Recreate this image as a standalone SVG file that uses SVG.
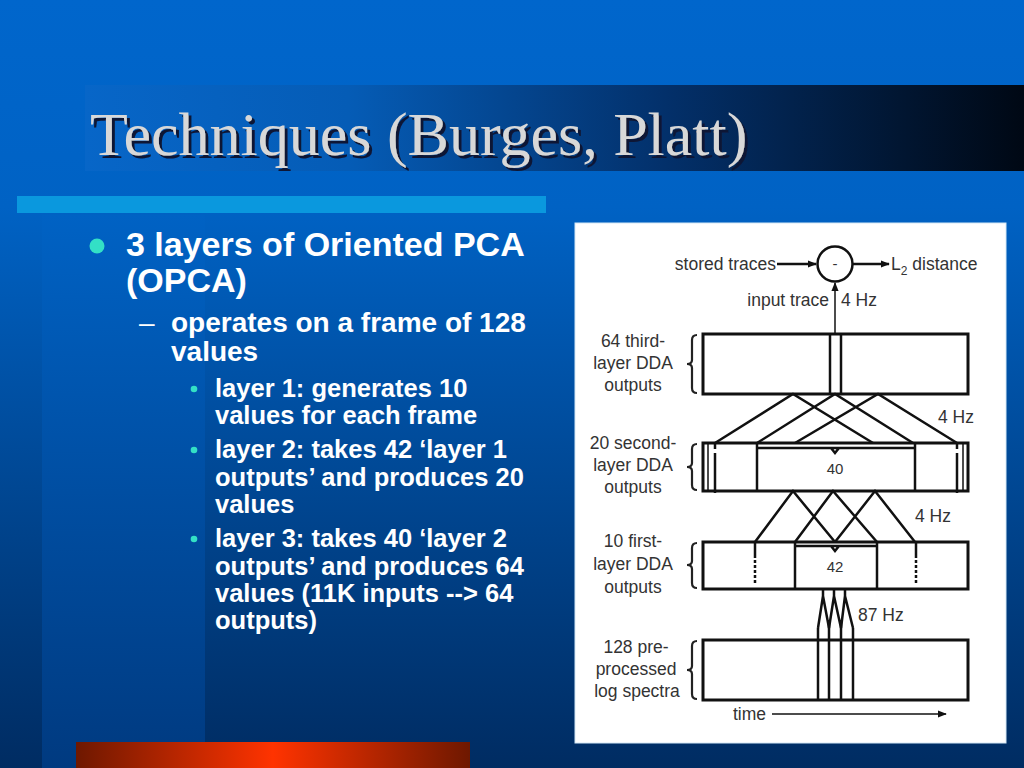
<svg xmlns="http://www.w3.org/2000/svg" width="1024" height="768" viewBox="0 0 1024 768">
<defs>
<linearGradient id="bg" x1="0" y1="0" x2="0" y2="1">
<stop offset="0" stop-color="#0066cc"/>
<stop offset="0.27" stop-color="#0062c4"/>
<stop offset="1" stop-color="#002c62"/>
</linearGradient>
<linearGradient id="band" x1="0" y1="0" x2="0" y2="1">
<stop offset="0" stop-color="#0062c4"/>
<stop offset="1" stop-color="#003a80"/>
</linearGradient>
<linearGradient id="titleband" x1="0" y1="0" x2="1" y2="0">
<stop offset="0" stop-color="#0766c8"/>
<stop offset="0.28" stop-color="#055cb6"/>
<stop offset="0.62" stop-color="#03306a"/>
<stop offset="1" stop-color="#000814"/>
</linearGradient>
<linearGradient id="red" x1="0" y1="0" x2="1" y2="0">
<stop offset="0" stop-color="#6e1800"/>
<stop offset="0.5" stop-color="#ff3300"/>
<stop offset="1" stop-color="#6e1800"/>
</linearGradient>
<filter id="shadow" x="-5%" y="-20%" width="110%" height="140%">
<feDropShadow dx="3" dy="3" stdDeviation="0.6" flood-color="#0a1836" flood-opacity="1"/>
</filter>
<marker id="ah" viewBox="0 0 10 10" refX="9" refY="5" markerWidth="9" markerHeight="9" markerUnits="userSpaceOnUse" orient="auto">
<path d="M0,1 L10,5 L0,9 Z" fill="#111"/>
</marker>
<style>
.bul{font-family:"Liberation Sans",Arial,sans-serif;font-weight:bold;fill:#ffffff}
.lbl{font-family:"Liberation Sans",Arial,sans-serif;font-size:17.5px;fill:#333}
.box{fill:#fff;stroke:#111;stroke-width:3}
.ln{stroke:#111;stroke-width:2.5;fill:none}
.thin{stroke:#111;stroke-width:1.5;fill:none}
.br{stroke:#222;stroke-width:2.2;fill:none}
.num{font-family:"Liberation Sans",Arial,sans-serif;font-size:15px;fill:#333;text-anchor:middle}
</style>
</defs>

<g id="background">
<rect x="0" y="0" width="1024" height="768" fill="url(#bg)"/>
<rect x="42" y="215" width="163" height="553" fill="url(#band)"/>
<rect x="85" y="85" width="939" height="86" fill="url(#titleband)"/>
<rect x="17" y="196" width="529" height="17" fill="#0a98de"/>
<rect x="76" y="742" width="394" height="26" fill="url(#red)"/>
</g>

<g id="title">
<text x="90" y="155" font-family="'Liberation Serif','Times New Roman',serif" font-size="62" fill="#d8d8d8" filter="url(#shadow)">Techniques (Burges, Platt)</text>
</g>

<g id="bullets">
<circle cx="97" cy="246" r="7.5" fill="#33e0c6"/>
<text class="bul" x="126" y="256" font-size="34">3 layers of Oriented PCA</text>
<text class="bul" x="126" y="292" font-size="34">(OPCA)</text>
<text x="139" y="332" font-family="'Liberation Sans',Arial,sans-serif" font-size="28" fill="#ffffff">–</text>
<text class="bul" x="171" y="332" font-size="28">operates on a frame of 128</text>
<text class="bul" x="171" y="361" font-size="28">values</text>
<circle cx="194" cy="389" r="3.3" fill="#33e0c6"/>
<circle cx="194" cy="450" r="3.3" fill="#33e0c6"/>
<circle cx="194" cy="539" r="3.3" fill="#33e0c6"/>
<g class="bul" font-size="25.5">
<text x="215" y="397">layer 1: generates 10</text>
<text x="215" y="424">values for each frame</text>
<text x="215" y="458">layer 2: takes 42 ‘layer 1</text>
<text x="215" y="486">outputs’ and produces 20</text>
<text x="215" y="513">values</text>
<text x="215" y="547">layer 3: takes 40 ‘layer 2</text>
<text x="215" y="575">outputs’ and produces 64</text>
<text x="215" y="602">values (11K inputs --&gt; 64</text>
<text x="215" y="629">outputs)</text>
</g>
</g>

<rect id="panel" x="575" y="223" width="431" height="520" fill="#ffffff" stroke="#d4e8f6" stroke-width="1"/>

<g id="diff-node">
<circle cx="835" cy="264" r="17.5" fill="#fff" stroke="#111" stroke-width="2.5"/>
<text x="835" y="269" class="num" font-size="17">-</text>
</g>
<g id="stored-traces"><text class="lbl" x="776" y="270" text-anchor="end" font-size="18.5">stored traces</text></g>
<g id="l2-distance"><text class="lbl" x="891" y="270" font-size="18.5">L<tspan font-size="12" dy="5">2</tspan><tspan dy="-5"> distance</tspan></text></g>
<g id="input-trace"><text class="lbl" x="829" y="306" text-anchor="end" font-size="18">input trace</text><text class="lbl" x="841" y="306" font-size="18">4 Hz</text></g>

<g id="layer3">
<rect class="box" x="703" y="334" width="265" height="60"/>
<line class="ln" x1="830" y1="334" x2="830" y2="394"/>
<line class="ln" x1="841" y1="334" x2="841" y2="394"/>
<path class="br" d="M697,335 Q692,335 692,340 L692,360 Q692,364 687,364 Q692,364 692,368 L692,388 Q692,393 697,393"/>
<text class="lbl" x="633" y="347" text-anchor="middle">64 third-</text>
<text class="lbl" x="633" y="369" text-anchor="middle">layer DDA</text>
<text class="lbl" x="633" y="391" text-anchor="middle">outputs</text>
</g>

<g id="layer2">
<rect class="box" x="703" y="443" width="265" height="48"/>
<line class="thin" x1="708" y1="443" x2="708" y2="491"/>
<line class="thin" x1="963" y1="443" x2="963" y2="491"/>
<line class="ln" x1="715" y1="443" x2="715" y2="449"/>
<line class="ln" x1="715" y1="453" x2="715" y2="493"/>
<line class="ln" x1="957" y1="443" x2="957" y2="449"/>
<line class="ln" x1="957" y1="453" x2="957" y2="493"/>
<line class="ln" x1="757" y1="443" x2="757" y2="491" stroke-width="3"/>
<line class="ln" x1="915" y1="443" x2="915" y2="491" stroke-width="3"/>
<path class="ln" d="M757,448 L915,448 M831,448 L835,453 L839,448"/>
<text class="num" x="835" y="474">40</text>
<path class="br" d="M697,444 Q692,444 692,449 L692,463 Q692,467 687,467 Q692,467 692,471 L692,485 Q692,490 697,490"/>
<text class="lbl" x="633" y="449" text-anchor="middle">20 second-</text>
<text class="lbl" x="633" y="471" text-anchor="middle">layer DDA</text>
<text class="lbl" x="633" y="493" text-anchor="middle">outputs</text>
<text class="lbl" x="938" y="423">4 Hz</text>
</g>

<g id="layer1">
<rect class="box" x="703" y="542" width="265" height="47"/>
<line class="ln" x1="755" y1="542" x2="755" y2="591" stroke-width="3" stroke-dasharray="16,2,3,2,3,2,3,2,3,2,3"/>
<line class="ln" x1="916" y1="542" x2="916" y2="591" stroke-width="3" stroke-dasharray="16,2,3,2,3,2,3,2,3,2,3"/>
<line class="ln" x1="795" y1="542" x2="795" y2="589"/>
<line class="ln" x1="877" y1="542" x2="877" y2="589"/>
<path class="ln" d="M795,546 L877,546 M831,546 L835,551 L839,546"/>
<text class="num" x="835" y="572">42</text>
<path class="br" d="M697,543 Q692,543 692,548 L692,561 Q692,565 687,565 Q692,565 692,569 L692,583 Q692,588 697,588"/>
<text class="lbl" x="633" y="547" text-anchor="middle">10 first-</text>
<text class="lbl" x="633" y="570" text-anchor="middle">layer DDA</text>
<text class="lbl" x="633" y="593" text-anchor="middle">outputs</text>
<text class="lbl" x="915" y="522">4 Hz</text>
</g>

<g id="spectra">
<rect class="box" x="703" y="640" width="265" height="60"/>
<line class="ln" x1="818" y1="628" x2="818" y2="700"/>
<line class="ln" x1="829" y1="620" x2="829" y2="700"/>
<line class="ln" x1="841" y1="620" x2="841" y2="700"/>
<line class="ln" x1="853" y1="628" x2="853" y2="700"/>
<path class="br" d="M697,641 Q692,641 692,646 L692,666 Q692,670 687,670 Q692,670 692,674 L692,694 Q692,699 697,699"/>
<text class="lbl" x="636" y="653" text-anchor="middle">128 pre-</text>
<text class="lbl" x="636" y="675" text-anchor="middle">processed</text>
<text class="lbl" x="637" y="697" text-anchor="middle">log spectra</text>
<text class="lbl" x="858" y="621">87 Hz</text>
</g>

<g id="time-axis">
<text class="lbl" x="733" y="720">time</text>
</g>

<g id="connectors">
<line class="ln" x1="777" y1="264" x2="816" y2="264" marker-end="url(#ah)"/>
<line class="ln" x1="853" y1="264" x2="889" y2="264" marker-end="url(#ah)"/>
<line class="thin" x1="835" y1="334" x2="835" y2="283" marker-end="url(#ah)"/>
<path class="ln" d="M715,443 L793,394 L873,443 M757,443 L835,394 L913,443 M795,443 L878,394 L957,443"/>
<path class="ln" d="M755,542 L793,491 L835,542 M795,542 L833,491 L877,542 M835,542 L875,491 L915,542"/>
<path class="ln" d="M823,589 L823,596 M834,589 L834,596 M845,589 L845,596 M818,628 L823,596 L829,628 M829,628 L834,596 L841,628 M841,628 L845,596 L853,628"/>
<line class="thin" x1="772" y1="714" x2="946" y2="714" marker-end="url(#ah)"/>
</g>
</svg>
